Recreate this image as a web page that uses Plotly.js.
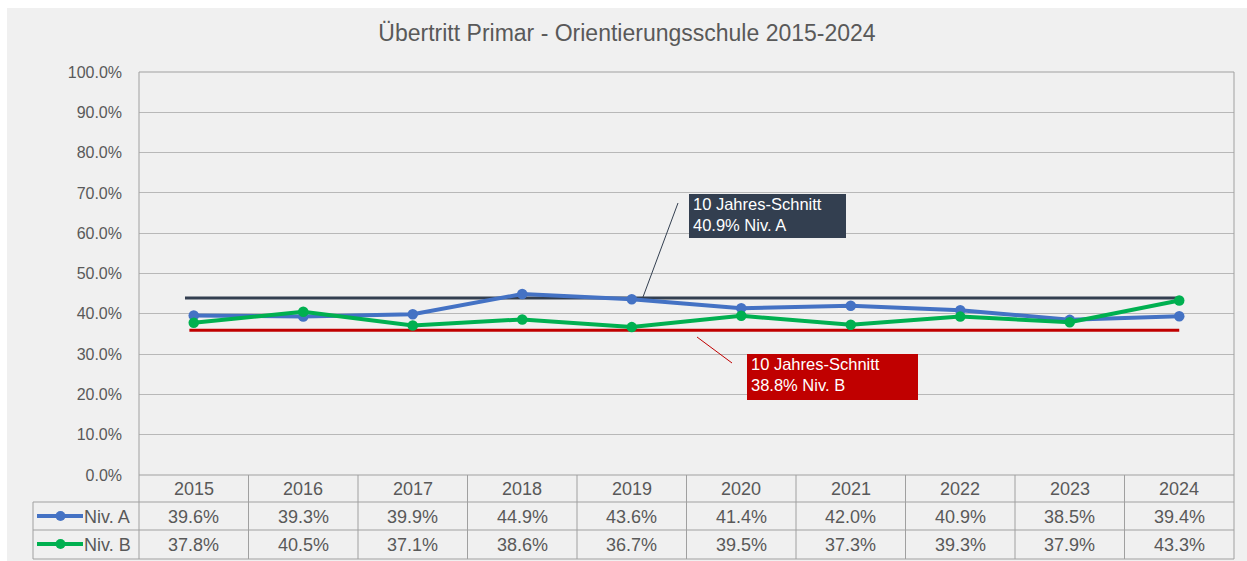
<!DOCTYPE html>
<html><head><meta charset="utf-8">
<script src="https://cdn.plot.ly/plotly-3.0.1.min.js"></script>
<style>html,body{margin:0;padding:0;background:#fff;overflow:hidden;width:1247px;height:561px}#chart{position:absolute;left:7px;top:8px;width:1240px;height:553px}</style>
</head><body><div id="chart"></div><script>
const years = ['2015','2016','2017','2018','2019','2020','2021','2022','2023','2024'];
const nivA = [39.6,39.3,39.9,44.9,43.6,41.4,42.0,40.9,38.5,39.4];
const nivB = [37.8,40.5,37.1,38.6,36.7,39.5,37.3,39.3,37.9,43.3];
const seriesNames = ['Niv. A','Niv. B'];
const seriesColors = ['#4472C4','#00B050'];
const avgLabels = ['10 Jahres-Schnitt<br>40.9% Niv. A','10 Jahres-Schnitt<br>38.8% Niv. B'];
const avgLevels = [43.9, 35.9]; // levels at which the reference draws the average lines
const avgColors = ['#333F50','#C00000'];
const yTicks = [0,10,20,30,40,50,60,70,80,90,100];
const yTickLabels = ['0.0%','10.0%','20.0%','30.0%','40.0%','50.0%','60.0%','70.0%','80.0%','90.0%','100.0%'];
const titleText = 'Übertritt Primar - Orientierungsschule 2015-2024';

const FONT = 'Liberation Sans, Arial, sans-serif';
const TXT = '#595959';
const BORDER = '#a0a0a0';
// image pixel -> paper coordinates (plot area 139..1234 x 72..475)
const px = x => (x - 139) / 1095;
const py = y => (475 - y) / 403;

const idx = years.map((_, i) => i);
const traces = [
  {x:[-0.08, years.length-1], y:[avgLevels[0], avgLevels[0]], mode:'lines', line:{color:avgColors[0], width:3}, hoverinfo:'skip'},
  {x:[-0.04, years.length-1], y:[avgLevels[1], avgLevels[1]], mode:'lines', line:{color:avgColors[1], width:3}, hoverinfo:'skip'},
  {x:idx, y:nivA, name:seriesNames[0], mode:'lines+markers', line:{color:seriesColors[0], width:4}, marker:{size:10.5, color:seriesColors[0]}},
  {x:idx, y:nivB, name:seriesNames[1], mode:'lines+markers', line:{color:seriesColors[1], width:4}, marker:{size:10.5, color:seriesColors[1]}}
];

const shapes = [];
const ann = [];
const L = (x0,y0,x1,y1,color,width) => shapes.push({type:'line', xref:'paper', yref:'paper', x0:px(x0), y0:py(y0), x1:px(x1), y1:py(y1), line:{color:color, width:width}});

// plot border lines
L(139,72,1234,72,BORDER,1);
L(139,72,139,559,BORDER,1);
L(1234,72,1234,559,BORDER,1);
L(139,475,1234,475,BORDER,1);
// table rows
L(33,502,1234,502,BORDER,1);
L(33,530,1234,530,BORDER,1);
L(33,559,1234,559,BORDER,1);
L(33,502,33,559,BORDER,1);
// table column separators
for (let i = 1; i < years.length; i++) {
  shapes.push({type:'line', xref:'x', yref:'paper', x0:i-0.5, x1:i-0.5, y0:py(475), y1:py(559), line:{color:BORDER, width:1}});
}
// table text
const rowY = [516.5, 544.5];
const rows = [nivA, nivB];
years.forEach((yr, i) => {
  ann.push({xref:'x', yref:'paper', x:i, y:py(488.5), yanchor:'middle', text:yr, showarrow:false, font:{family:FONT, size:18, color:TXT}});
  rows.forEach((r, k) => {
    ann.push({xref:'x', yref:'paper', x:i, y:py(rowY[k]), yanchor:'middle', text:r[i].toFixed(1)+'%', showarrow:false, font:{family:FONT, size:18, color:TXT}});
  });
});
// legend keys in table
seriesNames.forEach((n, k) => {
  const ky = Math.round(rowY[k]) - 1;
  L(37,ky,83,ky,seriesColors[k],4);
  shapes.push({type:'circle', xref:'paper', yref:'paper', x0:px(55.5), x1:px(65.5), y0:py(ky+5), y1:py(ky-5), fillcolor:seriesColors[k], line:{width:0}});
  ann.push({xref:'paper', yref:'paper', x:px(82), y:py(rowY[k]), xanchor:'left', yanchor:'middle', text:n, showarrow:false, font:{family:FONT, size:18, color:TXT}});
});
// average callouts
const boxes = [[689,194,846,238],[747,354,918,400]];
const connectors = [[643,297,678,203],[697,337,732,363]];
boxes.forEach((b, k) => {
  shapes.push({type:'rect', xref:'paper', yref:'paper', x0:px(b[0]), x1:px(b[2]), y0:py(b[1]), y1:py(b[3]), fillcolor:avgColors[k], line:{width:0}});
  ann.push({xref:'paper', yref:'paper', x:px(b[0]+2), y:py(b[1]-1), xanchor:'left', yanchor:'top', align:'left', text:avgLabels[k], showarrow:false, font:{family:FONT, size:16.5, color:'#ffffff'}});
  const c = connectors[k];
  L(c[0],c[1],c[2],c[3],avgColors[k],1);
});

const layout = {
  width:1240, height:553,
  paper_bgcolor:'#f0f0f0', plot_bgcolor:'#f0f0f0',
  margin:{l:132, r:13, t:64, b:86},
  showlegend:false,
  title:{text:titleText, x:0.5, xref:'container', y:1-(33-8)/553, yref:'container', yanchor:'middle', font:{family:FONT, size:23, color:TXT}},
  xaxis:{range:[-0.5, years.length-0.5], showgrid:false, zeroline:false, showticklabels:false, showline:false, fixedrange:true},
  yaxis:{range:[0,100], tickmode:'array', tickvals:yTicks, ticktext:yTickLabels, gridcolor:'#b8b8b8', gridwidth:1, zeroline:false, showline:false, ticks:'', ticklabelstandoff:16, tickfont:{family:FONT, size:16, color:TXT}, fixedrange:true},
  shapes:shapes,
  annotations:ann,
  font:{family:FONT}
};
Plotly.newPlot('chart', traces, layout, {staticPlot:true, displayModeBar:false});
</script></body></html>
